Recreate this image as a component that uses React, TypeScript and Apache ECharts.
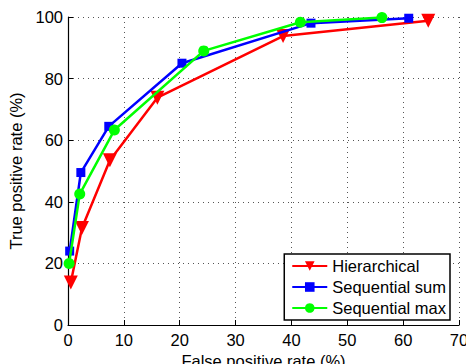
import React, { useEffect, useRef } from "react";
import * as echarts from "echarts";

const hierarchical: [number, number][] = [
  [0.5, 13.8], [2.5, 31.5], [7.5, 53.5], [16, 73.8], [38.5, 93.8], [64.5, 98.8],
];
const sequentialSum: [number, number][] = [
  [0.3, 24], [2.3, 49.5], [7.3, 64.5], [20.4, 85], [43.5, 98], [61, 99.6],
];
const sequentialMax: [number, number][] = [
  [0.2, 20], [2.1, 42.5], [8.3, 63.3], [24.3, 89], [41.6, 98.3], [56.2, 99.8],
];
const seriesNames = ["Hierarchical", "Sequential sum", "Sequential max"];

const FONT = "Liberation Sans, Arial, Helvetica, sans-serif";
const FS = 16.5;

export default function App() {
  const ref = useRef<HTMLDivElement>(null);
  useEffect(() => {
    if (!ref.current) return;
    const chart = echarts.init(ref.current, null, { renderer: "svg" });
    const axisCommon = {
      axisLine: { show: true, lineStyle: { color: "#000", width: 1.2 } },
      axisTick: { show: true, inside: true, length: 5, lineStyle: { color: "#000" } },
      axisLabel: { color: "#000", fontSize: FS, fontFamily: FONT },
      splitLine: { show: true, lineStyle: { color: "#555", type: [1, 4], width: 1 } },
      nameTextStyle: { color: "#000", fontSize: FS, fontFamily: FONT },
    };
    chart.setOption({
      animation: false,
      backgroundColor: "#fff",
      grid: {
        left: 68,
        right: 7,
        top: 17,
        bottom: 39,
        containLabel: false,
        outerBoundsMode: "none",
      },
      xAxis: {
        type: "value",
        min: 0,
        max: 70,
        interval: 10,
        name: "False positive rate (%)",
        nameLocation: "middle",
        nameGap: 24,
        ...axisCommon,
        axisLabel: { ...axisCommon.axisLabel, margin: 6 },
      },
      yAxis: {
        type: "value",
        min: 0,
        max: 100,
        interval: 20,
        name: "True positive rate (%)",
        nameLocation: "middle",
        nameGap: 35,
        ...axisCommon,
        axisLabel: { ...axisCommon.axisLabel, margin: 5 },
      },
      legend: {
        orient: "vertical",
        right: 16,
        top: 254,
        backgroundColor: "#fff",
        borderColor: "#000",
        borderWidth: 1.5,
        borderRadius: 0,
        padding: [3, 4, 3, 7],
        itemGap: 3,
        itemWidth: 35,
        itemHeight: 12,
        textStyle: { color: "#000", fontSize: FS, fontFamily: FONT, lineHeight: 18 },
        data: seriesNames,
      },
      series: [
        {
          name: seriesNames[0],
          type: "line",
          data: hierarchical,
          color: "#ff0000",
          lineStyle: { width: 2.5, color: "#ff0000" },
          symbol: "triangle",
          symbolRotate: 180,
          symbolSize: 14,
          itemStyle: { color: "#ff0000" },
          z: 3,
        },
        {
          name: seriesNames[1],
          type: "line",
          data: sequentialSum,
          color: "#0000ff",
          lineStyle: { width: 2.5, color: "#0000ff" },
          symbol: "rect",
          symbolSize: 9,
          itemStyle: { color: "#0000ff" },
          z: 4,
        },
        {
          name: seriesNames[2],
          type: "line",
          data: sequentialMax,
          color: "#00ff00",
          lineStyle: { width: 2.5, color: "#00ff00" },
          symbol: "circle",
          symbolSize: 11,
          itemStyle: { color: "#00ff00" },
          z: 5,
        },
      ],
    });
    return () => chart.dispose();
  }, []);
  return <div ref={ref} style={{ width: 466, height: 364, position: "absolute", left: 0, top: 0 }} />;
}
